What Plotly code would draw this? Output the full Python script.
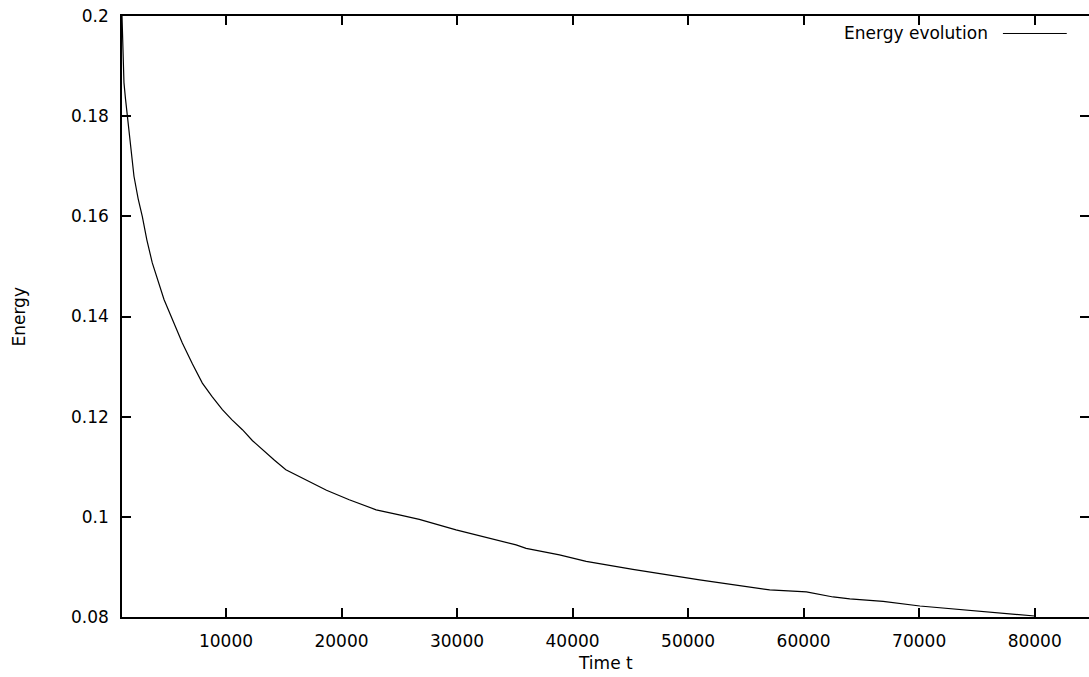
import plotly.graph_objects as go

# Data
time_t = [1000, 1060, 1170, 1300, 1456, 1750, 2036, 2400, 2756, 3150, 3622, 4636,
          5355, 6222, 7100, 7955, 8800, 9688, 10500, 11421, 12300, 13154, 14200,
          15182, 16915, 18700, 20667, 23000, 25000, 26733, 29913, 33666, 35113,
          35980, 38865, 41178, 45217, 50997, 54463, 57063, 60241, 62552, 63997,
          66880, 70060, 74107, 80000]
energy = [0.2, 0.1945, 0.1867, 0.1835, 0.18, 0.1735, 0.168, 0.1635, 0.16, 0.1553,
          0.1507, 0.1434, 0.1394, 0.1347, 0.1305, 0.1267, 0.1240, 0.1214, 0.1194,
          0.1174, 0.1152, 0.1134, 0.1113, 0.1094, 0.1074, 0.1053, 0.1034, 0.1014,
          0.1004, 0.0995, 0.0974, 0.0953, 0.0944, 0.0937, 0.0924, 0.0911, 0.0895,
          0.0874, 0.0863, 0.0854, 0.0850, 0.0840, 0.0836, 0.0831, 0.0822, 0.0814,
          0.0802]

x_ticks = [10000, 20000, 30000, 40000, 50000, 60000, 70000, 80000]
y_ticks = [0.08, 0.1, 0.12, 0.14, 0.16, 0.18, 0.2]
y_tick_text = ["0.08", "0.1", "0.12", "0.14", "0.16", "0.18", "0.2"]
series_name = "Energy evolution"

FONT = "DejaVu Sans, Liberation Sans, Arial, sans-serif"
FS = 17

fig = go.Figure()
fig.add_trace(go.Scatter(x=time_t, y=energy, mode="lines", name=series_name,
                         line=dict(color="black", width=1.2), showlegend=False))

axis_common = dict(showline=True, linecolor="black", linewidth=1.5, mirror="allticks",
                   ticks="inside", ticklen=9, tickwidth=1.5, tickcolor="black",
                   showgrid=False, zeroline=False, automargin=False,
                   tickfont=dict(family=FONT, size=FS, color="black"))

fig.update_xaxes(range=[1000, 84700], tickvals=x_ticks,
                 ticktext=[str(v) for v in x_ticks], ticklabelstandoff=8, **axis_common)
fig.update_yaxes(range=[0.08, 0.2], tickvals=y_ticks, ticktext=y_tick_text,
                 ticklabelstandoff=8, **axis_common)

# axis titles
fig.add_annotation(text="Time t", xref="paper", yref="paper", x=0.5, y=-0.076,
                   xanchor="center", yanchor="middle", showarrow=False,
                   font=dict(family=FONT, size=FS, color="black"))
fig.add_annotation(text="Energy", xref="paper", yref="paper", x=-0.1075, y=0.5,
                   xanchor="center", yanchor="middle", showarrow=False, textangle=-90,
                   font=dict(family=FONT, size=FS, color="black"))

# gnuplot-style key: text then line sample
fig.add_annotation(text=series_name, xref="paper", yref="paper", x=0.8976, y=0.9709,
                   xanchor="right", yanchor="middle", showarrow=False,
                   font=dict(family=FONT, size=FS, color="black"))
fig.add_shape(type="line", xref="paper", yref="paper", x0=0.911, x1=0.977,
              y0=0.9709, y1=0.9709, line=dict(color="black", width=1))

fig.update_layout(width=1089, height=677, plot_bgcolor="white", paper_bgcolor="white",
                  margin=dict(l=122, r=0, t=16, b=60, autoexpand=False), showlegend=False)

fig.write_html("out.html", config={"displayModeBar": False},
               post_script="document.body.style.margin='0';"
                           "document.body.style.overflow='hidden';")
